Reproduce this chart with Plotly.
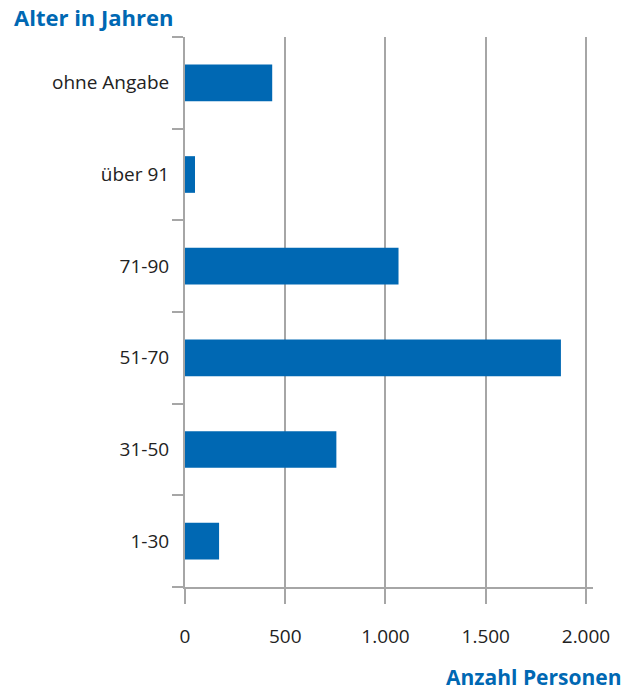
import plotly.graph_objects as go

categories = ["1-30", "31-50", "51-70", "71-90", "über 91", "ohne Angabe"]
values = [170, 755, 1875, 1065, 50, 435]
x_ticks = [0, 500, 1000, 1500, 2000]
x_tick_labels = ["0", "500", "1.000", "1.500", "2.000"]

BLUE = "#0068b3"
GREY = "#a6a6a6"
FONT = "Open Sans"

fig = go.Figure(go.Bar(
    x=values, y=categories, orientation="h",
    marker=dict(color=BLUE, line=dict(width=0)),
    width=0.4,
))

fig.update_layout(
    width=631, height=692,
    margin=dict(l=185, r=38, t=37, b=105),
    paper_bgcolor="white", plot_bgcolor="white",
    showlegend=False,
    font=dict(family=FONT, size=19, color="#222222"),
    xaxis=dict(
        range=[0, 2035],
        tickmode="array", tickvals=x_ticks, ticktext=x_tick_labels,
        showgrid=True, gridcolor=GREY, gridwidth=2,
        ticks="outside", ticklen=15, tickwidth=2, tickcolor=GREY,
        showline=True, linecolor=GREY, linewidth=2,
        zeroline=False,
        ticklabelstandoff=16,
        tickfont=dict(size=19, color="#222222"),
    ),
    yaxis=dict(
        type="category",
        categoryorder="array", categoryarray=categories,
        tickson="boundaries",
        ticks="outside", ticklen=11, tickwidth=2, tickcolor=GREY,
        showline=True, linecolor=GREY, linewidth=2,
        showgrid=False, zeroline=False,
        tickfont=dict(size=19, color="#222222"),
        ticklabelstandoff=10,
    ),
    annotations=[
        dict(text="<b>Alter in Jahren</b>", xref="paper", yref="paper",
             x=-173/408, y=1 + 3/550, xanchor="left", yanchor="bottom",
             showarrow=False, font=dict(family=FONT, size=22, color=BLUE)),
        dict(text="<b>Anzahl Personen</b>", xref="paper", yref="paper",
             x=1 + 30/408, y=-74/550, xanchor="right", yanchor="top",
             showarrow=False, font=dict(family=FONT, size=21, color=BLUE)),
    ],
)

fig.write_html("out.html", config={"displayModeBar": False},
               post_script="document.body.style.margin='0';")
